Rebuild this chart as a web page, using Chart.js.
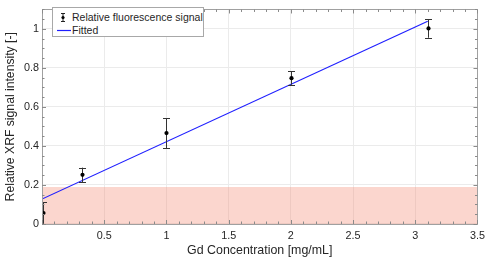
<!DOCTYPE html>
<html>
<head>
<meta charset="utf-8">
<script src="https://cdn.jsdelivr.net/npm/chart.js@4/dist/chart.umd.min.js"></script>
<style>
  html, body { margin: 0; padding: 0; background: #fff; }
  #wrap { position: relative; width: 491px; height: 261px; }
  #legend { position: absolute; left: 52px; top: 7px; width: 150px; height: 28px;
    border: 1px solid #a8a8a8; background: #fff; font-family: "Liberation Sans", Arial, sans-serif;
    font-size: 10.5px; color: #262626; }
  .row { position: absolute; left: 0; height: 13px; line-height: 13px; white-space: nowrap; }
  .row span.t { position: absolute; left: 19px; top: 0; }
  .icon { position: absolute; }
</style>
</head>
<body>
<div id="wrap">
  <canvas id="c" width="491" height="261"></canvas>
  <div id="legend"></div>
</div>
<script>
// ---- data ----
const concentrations = [0.01, 0.32, 1.0, 2.0, 3.1];          // Gd mg/mL
const signal        = [0.056, 0.252, 0.466, 0.748, 1.003];    // relative XRF signal
const signalError   = [0.055, 0.037, 0.077, 0.034, 0.048];    // ± error
const fitX = [0, 3.1];
const fitY = [0.128, 1.04];
const bandX = [0, 3.5];
const bandY = [0.19, 0.19];
const xTickValues = [0.5, 1, 1.5, 2, 2.5, 3, 3.5];
const xTickLabels = ['0.5', '1', '1.5', '2', '2.5', '3', '3.5'];
const yTickValues = [0, 0.2, 0.4, 0.6, 0.8, 1];
const yTickLabels = ['0', '0.2', '0.4', '0.6', '0.8', '1'];
const seriesNames = ['Relative fluorescence signal', 'Fitted'];
const xTitle = 'Gd Concentration [mg/mL]';
const yTitle = 'Relative XRF signal intensity [-]';

const FONT = '"Liberation Sans", Arial, sans-serif';
const BORDER = '#a0a0a0';

const errorBarPlugin = {
  id: 'errorBars',
  afterDatasetsDraw(chart) {
    const { ctx, scales: { x, y } } = chart;
    ctx.save();
    ctx.beginPath();
    ctx.rect(chart.chartArea.left, chart.chartArea.top, chart.chartArea.right - chart.chartArea.left, chart.chartArea.bottom - chart.chartArea.top);
    ctx.clip();
    ctx.strokeStyle = '#333';
    ctx.lineWidth = 1;
    concentrations.forEach((cx, i) => {
      const px = Math.round(x.getPixelForValue(cx)) + 0.5;
      const yt = y.getPixelForValue(signal[i] + signalError[i]);
      const yb = y.getPixelForValue(signal[i] - signalError[i]);
      ctx.beginPath();
      ctx.moveTo(px, yt); ctx.lineTo(px, yb);
      ctx.moveTo(px - 3.5, Math.round(yt) + 0.5); ctx.lineTo(px + 3.5, Math.round(yt) + 0.5);
      ctx.moveTo(px - 3.5, Math.round(yb) + 0.5); ctx.lineTo(px + 3.5, Math.round(yb) + 0.5);
      ctx.stroke();
      ctx.beginPath();
      ctx.fillStyle = '#000';
      ctx.arc(px, y.getPixelForValue(signal[i]), 2.1, 0, Math.PI * 2);
      ctx.fill();
    });
    ctx.restore();
  }
};

const boxTicksPlugin = {
  id: 'boxTicks',
  afterDraw(chart) {
    const { ctx, chartArea: { left, right, top, bottom }, scales: { x, y } } = chart;
    ctx.save();
    ctx.strokeStyle = BORDER;
    ctx.lineWidth = 1;
    ctx.beginPath();
    ctx.rect(Math.round(left) + 0.5, Math.round(top) + 0.5, Math.round(right) - Math.round(left), Math.round(bottom) - Math.round(top));
    ctx.stroke();
    ctx.strokeStyle = '#8a8a8a';
    ctx.beginPath();
    for (let k = 0; k <= 35; k++) {
      const v = k / 10;
      const len = (k % 5 === 0) ? 4 : 2.5;
      const px = Math.round(x.getPixelForValue(v)) + 0.5;
      ctx.moveTo(px, bottom); ctx.lineTo(px, bottom - len);
      ctx.moveTo(px, top); ctx.lineTo(px, top + len);
    }
    for (let k = 0; k <= 22; k++) {
      const v = k / 20;
      const len = (k % 4 === 0) ? 4 : 2.5;
      const py = Math.round(y.getPixelForValue(v)) + 0.5;
      ctx.moveTo(left, py); ctx.lineTo(left + len, py);
      ctx.moveTo(right, py); ctx.lineTo(right - len, py);
    }
    ctx.stroke();
    ctx.restore();
  }
};

const ctx = document.getElementById('c');
new Chart(ctx, {
  type: 'scatter',
  data: {
    datasets: [
      {
        label: seriesNames[0],
        data: concentrations.map((c, i) => ({ x: c, y: signal[i] })),
        pointRadius: 0,
        showLine: false,
        order: 1
      },
      {
        label: seriesNames[1],
        type: 'line',
        data: fitX.map((c, i) => ({ x: c, y: fitY[i] })),
        borderColor: '#1f1fff',
        borderWidth: 1.2,
        pointRadius: 0,
        fill: false,
        order: 2
      },
      {
        label: 'band',
        type: 'line',
        data: bandX.map((c, i) => ({ x: c, y: bandY[i] })),
        borderWidth: 0,
        borderColor: 'rgba(0,0,0,0)',
        backgroundColor: 'rgba(245,140,120,0.36)',
        pointRadius: 0,
        fill: 'origin',
        order: 3
      }
    ]
  },
  options: {
    responsive: false,
    animation: false,
    events: [],
    layout: { padding: { left: 0, top: 3, right: 10, bottom: 0 } },
    plugins: { legend: { display: false }, tooltip: { enabled: false } },
    scales: {
      x: {
        type: 'linear', min: 0, max: 3.5,
        afterFit(s) { s.height = 37; },
        afterBuildTicks(s) { s.ticks = xTickValues.map(v => ({ value: v })); },
        grid: { color: '#ebebeb', drawTicks: false },
        border: { display: false },
        ticks: { padding: 6, color: '#262626', font: { family: FONT, size: 10.8 }, maxRotation: 0,
          callback: (v, i) => xTickLabels[i] },
        title: { display: true, text: xTitle, color: '#262626', font: { family: FONT, size: 12.4 }, padding: { top: 0, bottom: 3 } }
      },
      y: {
        type: 'linear', min: 0, max: 1.1,
        afterFit(s) { s.width = 42; },
        afterBuildTicks(s) { s.ticks = yTickValues.map(v => ({ value: v })); },
        grid: { color: '#ebebeb', drawTicks: false },
        border: { display: false },
        ticks: { padding: 3, color: '#262626', font: { family: FONT, size: 10.8 },
          callback: (v, i) => yTickLabels[i] },
        title: { display: true, text: yTitle, color: '#262626', font: { family: FONT, size: 12.2 }, padding: { top: 3, bottom: 0 } }
      }
    }
  },
  plugins: [errorBarPlugin, boxTicksPlugin]
});

// ---- HTML legend ----
const legend = document.getElementById('legend');
legend.innerHTML =
  '<div class="row" style="top:3px;width:150px">' +
    '<svg class="icon" style="left:6px;top:1px" width="8" height="11">' +
      '<line x1="4" y1="1" x2="4" y2="10" stroke="#222" stroke-width="1"/>' +
      '<line x1="2" y1="1.5" x2="6" y2="1.5" stroke="#222" stroke-width="1"/>' +
      '<line x1="2" y1="9.5" x2="6" y2="9.5" stroke="#222" stroke-width="1"/>' +
      '<circle cx="4" cy="5.5" r="1.6" fill="#000"/></svg>' +
    '<span class="t"></span></div>' +
  '<div class="row" style="top:16px;width:150px">' +
    '<svg class="icon" style="left:4px;top:0" width="14" height="13">' +
      '<line x1="0" y1="6.5" x2="14" y2="6.5" stroke="#1f1fff" stroke-width="1.2"/></svg>' +
    '<span class="t"></span></div>';
const spans = legend.querySelectorAll('span.t');
spans[0].textContent = seriesNames[0];
spans[1].textContent = seriesNames[1];
</script>
</body>
</html>
